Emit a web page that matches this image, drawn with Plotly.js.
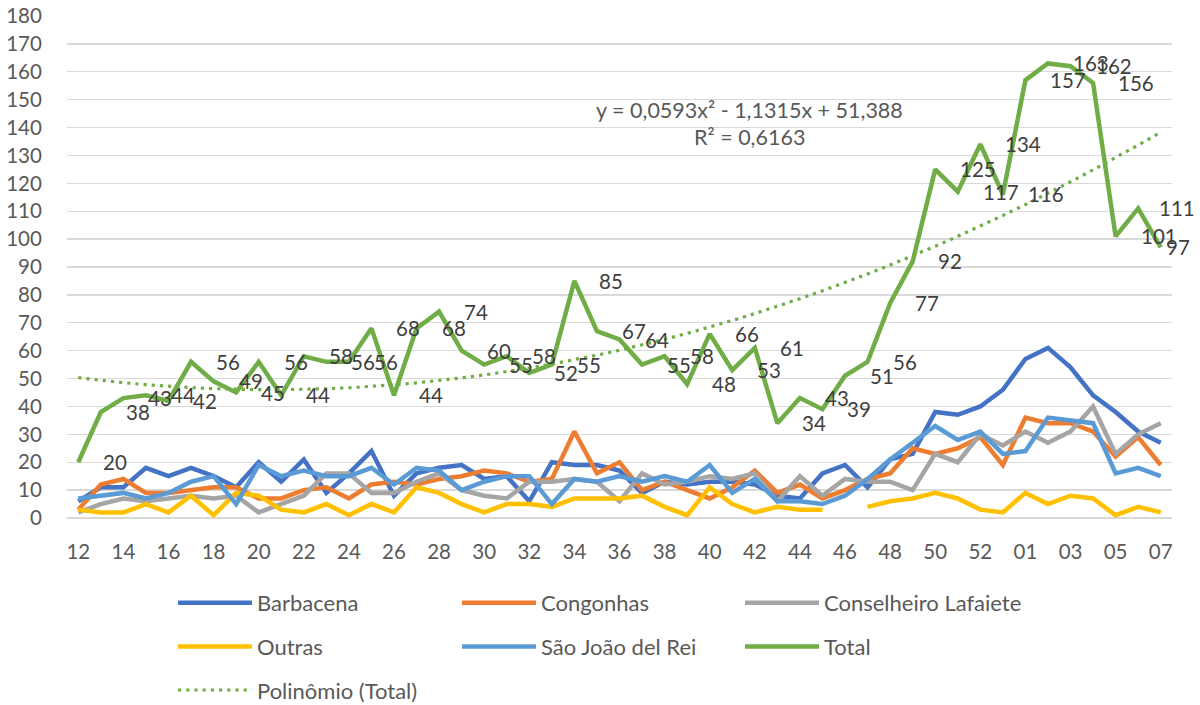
<!DOCTYPE html>
<html>
<head>
<meta charset="utf-8">
<script src="https://cdn.plot.ly/plotly-3.0.1.min.js"></script>
<style>
html,body{margin:0;padding:0;background:#ffffff;}
#chart{width:1200px;height:705px;}
</style>
</head>
<body>
<div id="chart"></div>
<script>
// Epidemiological weeks 12..53 then 01..07
const categories = ["12","13","14","15","16","17","18","19","20","21","22","23","24","25","26","27","28","29","30","31","32","33","34","35","36","37","38","39","40","41","42","43","44","45","46","47","48","49","50","51","52","53","01","02","03","04","05","06","07"];

const barbacena = [6,11,11,18,15,18,15,11,20,13,21,9,16,24,8,16,18,19,14,15,6,20,19,19,17,9,13,12,13,13,12,8,7,16,19,11,21,23,38,37,40,46,57,61,54,44,38,31,27];
const congonhas = [3,12,14,9,9,10,11,11,7,7,10,11,7,12,13,12,14,15,17,16,13,14,31,16,20,10,13,10,7,11,17,9,12,7,10,14,16,25,23,25,29,19,36,34,34,31,22,29,19];
const conselheiroLafaiete = [2,5,7,6,7,8,7,8,2,5,8,16,16,9,9,13,16,10,8,7,13,13,14,13,6,16,12,13,15,14,16,6,15,8,14,13,13,10,23,20,30,26,31,27,31,40,23,30,34];
const outras = [3,2,2,5,2,8,1,9,8,3,2,5,1,5,2,11,9,5,2,5,5,4,7,7,7,8,4,1,11,5,2,4,3,3,null,4,6,7,9,7,3,2,9,5,8,7,1,4,2];
const saoJoaoDelRei = [7,8,9,7,9,13,15,5,19,15,17,15,15,18,12,18,17,10,13,15,15,5,14,13,15,13,15,13,19,9,14,6,6,5,8,14,21,27,33,28,31,23,24,36,35,34,16,18,15];
const total = [20,38,43,44,42,56,49,45,56,44,58,56,56,68,44,68,74,60,55,58,52,55,85,67,64,55,58,48,66,53,61,34,43,39,51,56,77,92,125,117,134,116,157,163,162,156,101,111,97];

// Polynomial trendline as printed on the chart (x = 1..n)
const trendCoefficients = [0.0593, -1.1315, 51.388];
const trendEquationText = "y = 0,0593x² - 1,1315x + 51,388";
const trendR2Text = "R² = 0,6163";

const seriesNames = ["Barbacena","Congonhas","Conselheiro Lafaiete","Outras","São João del Rei","Total","Polinômio (Total)"];
const seriesColors = ["#4472C4","#ED7D31","#A5A5A5","#FFC000","#5B9BD5","#70AD47","#70AD47"];

const FONT = "Lato, 'Open Sans', sans-serif";
const trendValues = categories.map((c, i) => {
  const x = i + 1;
  return trendCoefficients[0]*x*x + trendCoefficients[1]*x + trendCoefficients[2];
});

const seriesData = [barbacena, congonhas, conselheiroLafaiete, outras, saoJoaoDelRei, total];
const legendOf = ["legend","legend2","legend3","legend","legend2","legend3"];

const traces = seriesData.map((vals, k) => ({
  type: "scatter",
  mode: "lines",
  x: categories,
  y: vals,
  name: seriesNames[k],
  legend: legendOf[k],
  legendgroup: "g" + k,
  line: {color: seriesColors[k], width: 4.5, shape: "linear"},
  connectgaps: false,
  hoverinfo: "skip"
}));

traces.push({
  type: "scatter",
  mode: "lines",
  x: categories,
  y: trendValues,
  name: seriesNames[6],
  legend: "legend",
  legendgroup: "g6",
  line: {color: seriesColors[6], width: 3.2, dash: "3.2px,5px"},
  hoverinfo: "skip"
});

// data labels of the Total series sit to the right of each point;
// the last two are pulled in to stay inside the chart
const n = total.length;
const annotations = total.map((v, i) => ({
  x: i,
  y: v,
  xref: "x",
  yref: "y",
  text: String(v),
  showarrow: false,
  xanchor: "left",
  yanchor: "middle",
  xshift: i === n - 1 ? 3 : (i === n - 2 ? 19 : 23),
  font: {family: FONT, size: 20.5, color: "#404040"}
}));

annotations.push({
  x: 0.618, xref: "paper", y: 146.3, yref: "y",
  text: trendEquationText, showarrow: false,
  xanchor: "center", yanchor: "middle",
  font: {family: FONT, size: 21.5, color: "#595959"}
});
annotations.push({
  x: 0.618, xref: "paper", y: 136.6, yref: "y",
  text: trendR2Text, showarrow: false,
  xanchor: "center", yanchor: "middle",
  font: {family: FONT, size: 21.5, color: "#595959"}
});

const legendBase = {
  orientation: "v",
  xref: "container", yref: "container",
  xanchor: "left", yanchor: "top",
  bgcolor: "rgba(0,0,0,0)",
  borderwidth: 0,
  font: {family: FONT, size: 22, color: "#595959"},
  itemwidth: 74,
  tracegroupgap: 12,
  traceorder: "grouped"
};

const tickVals = categories.filter((c, i) => i % 2 === 0);

const layout = {
  width: 1200,
  height: 705,
  paper_bgcolor: "#ffffff",
  plot_bgcolor: "#ffffff",
  margin: {l: 67, r: 28, t: 16, b: 187, pad: 0, autoexpand: false},
  font: {family: FONT, size: 20.5, color: "#595959"},
  showlegend: true,
  xaxis: {
    type: "category",
    range: [-0.5, categories.length - 0.5],
    tickmode: "array",
    tickvals: tickVals,
    ticktext: tickVals,
    showgrid: false,
    zeroline: false,
    showline: false,
    ticks: "outside",
    ticklen: 15,
    tickcolor: "rgba(0,0,0,0)",
    tickfont: {family: FONT, size: 20.5, color: "#595959"},
    automargin: false,
    fixedrange: true
  },
  yaxis: {
    range: [0, 180],
    tickmode: "linear",
    tick0: 0,
    dtick: 10,
    showgrid: true,
    gridcolor: "#D9D9D9",
    gridwidth: 1.3,
    zeroline: true,
    zerolinecolor: "#D9D9D9",
    zerolinewidth: 1.3,
    showline: false,
    ticks: "outside",
    ticklen: 20,
    tickcolor: "rgba(0,0,0,0)",
    tickfont: {family: FONT, size: 20.5, color: "#595959"},
    automargin: false,
    fixedrange: true
  },
  legend: Object.assign({}, legendBase, {x: 173/1200, y: 1 - 582/705}),
  legend2: Object.assign({}, legendBase, {x: 457/1200, y: 1 - 582/705}),
  legend3: Object.assign({}, legendBase, {x: 740/1200, y: 1 - 582/705}),
  annotations: annotations
};

Plotly.newPlot("chart", traces, layout, {staticPlot: true, displayModeBar: false});
</script>
</body>
</html>
